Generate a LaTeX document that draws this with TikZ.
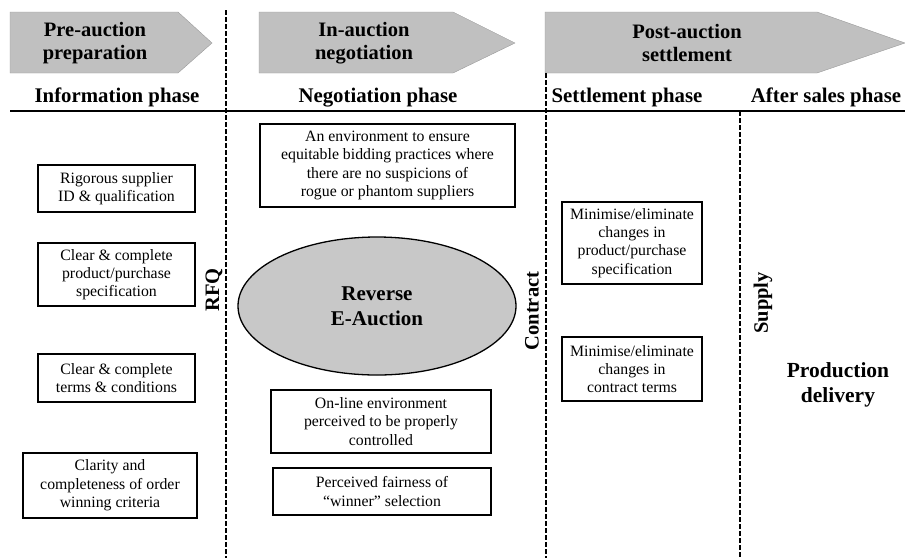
\documentclass[tikz,border=0pt]{standalone}
\usepackage{fontspec}
\setmainfont{Liberation Serif}
\usetikzlibrary{shapes.geometric}
\definecolor{arrowgray}{RGB}{192,192,192}
\definecolor{ellgray}{RGB}{200,200,200}
\begin{document}
\begin{tikzpicture}[x=1pt,y=-1pt,
  box/.style={draw, line width=1.3pt, align=center, inner sep=0pt,
    font=\fontsize{15.8}{18.3}\selectfont},
  chev/.style={fill=arrowgray, draw=arrowgray!80!black, line width=0.4pt},
  chevtext/.style={align=center, font=\bfseries\fontsize{20.5}{23}\selectfont},
  phase/.style={anchor=base, font=\bfseries\fontsize{20.8}{24}\selectfont},
  vlabel/.style={rotate=90, font=\bfseries\fontsize{20.5}{24}\selectfont},
  divider/.style={line width=1.2pt, dash pattern=on 5pt off 2pt}]
\useasboundingbox (0,0) rectangle (905,558);

% chevron arrows
\fill[chev] (10,12) -- (178,12) -- (212,43) -- (178,73) -- (10,73) -- cycle;
\fill[chev] (259,12) -- (453,12) -- (515,43) -- (453,73) -- (259,73) -- cycle;
\fill[chev] (545,12) -- (817,12) -- (905,43) -- (817,73) -- (545,73) -- cycle;
\node[chevtext] (c1) at (95,43) {Pre-auction\\preparation};
\node[chevtext] (c2) at (364,43) {In-auction\\negotiation};
\node[chevtext] (c3) at (687,43) {Post-auction\\settlement};

% phase titles
\node[phase] (p1) at (117,102) {Information phase};
\node[phase] (p2) at (378,102) {Negotiation phase};
\node[phase] (p3) at (627,102) {Settlement phase};
\node[phase] (p4) at (826,102) {After sales phase};

% rule and dividers
\draw[line width=2pt] (10,111) -- (905,111);
\draw[divider] (226,10) -- (226,558);
\draw[divider] (546,73) -- (546,558);
\draw[divider] (740,111) -- (740,558);

% rotated labels
\node[vlabel] (rfq) at (214,290) {RFQ};
\node[vlabel] (contract) at (532,311) {Contract};
\node[vlabel] (supply) at (763,303) {Supply};

% left column
\node[box, minimum width=157pt, minimum height=47pt] (b1) at (116.5,188.5) {Rigorous supplier\\ID \& qualification};
\node[box, minimum width=157pt, minimum height=63pt] (b2) at (116.5,274.5) {Clear \& complete\\product/purchase\\specification};
\node[box, minimum width=157pt, minimum height=48pt] (b3) at (116.5,378) {Clear \& complete\\terms \& conditions};
\node[box, minimum width=174pt, minimum height=65pt] (b4) at (110,485.5) {Clarity and\\completeness of order\\winning criteria};

% middle column
\node[box, minimum width=255pt, minimum height=83pt] (m1) at (387.5,165.5) {An environment to ensure\\equitable bidding practices where\\there are no suspicions of\\rogue or phantom suppliers};
\node[ellipse, draw, line width=1.3pt, fill=ellgray, minimum width=278pt, minimum height=138pt, inner sep=0pt, align=center,
  font=\bfseries\fontsize{21}{25}\selectfont] (rea) at (377,306) {Reverse\\E-Auction};
\node[box, minimum width=220pt, minimum height=63pt] (m2) at (381,421.5) {On-line environment\\perceived to be properly\\controlled};
\node[box, minimum width=218pt, minimum height=47pt] (m3) at (382,491.5) {Perceived fairness of\\``winner'' selection};

% right column
\node[box, minimum width=140pt, minimum height=82pt] (r1) at (632,243) {Minimise/eliminate\\changes in\\product/purchase\\specification};
\node[box, minimum width=140pt, minimum height=64pt] (r2) at (632,369) {Minimise/eliminate\\changes in\\contract terms};
\node[align=center, font=\bfseries\fontsize{21.5}{25}\selectfont] (pd) at (838,385) {Production\\delivery};
\end{tikzpicture}
\end{document}
